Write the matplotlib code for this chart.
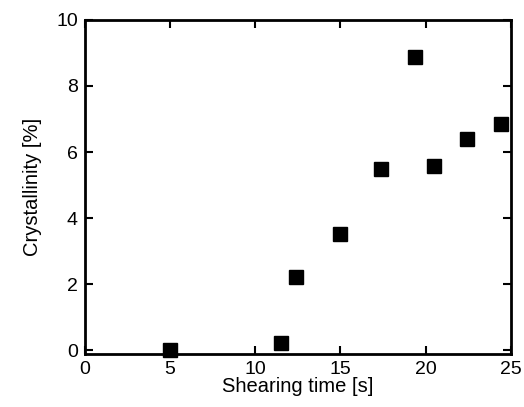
import matplotlib
matplotlib.use("Agg")
import matplotlib.pyplot as plt

plt.rcParams['font.family'] = ['Liberation Sans', 'DejaVu Sans']
plt.rcParams.update({'font.size': 14})

# Data
shear_time = [5.0, 11.5, 12.4, 15.0, 17.4, 19.4, 20.5, 22.4, 24.4]
crystallinity = [0.0, 0.22, 2.2, 3.52, 5.48, 8.88, 5.57, 6.39, 6.85]
x_ticks = [0, 5, 10, 15, 20, 25]
y_ticks = [0, 2, 4, 6, 8, 10]

fig = plt.figure(figsize=(5.24, 4.07), dpi=100)
ax = fig.add_axes([0.162, 0.130, 0.813, 0.821])
ax.plot(shear_time, crystallinity, 's', color='black', markersize=10, clip_on=False, zorder=3)

ax.set_xlim(0, 25)
ax.set_ylim(-0.12, 10)
ax.set_xticks(x_ticks)
ax.set_yticks(y_ticks)
ax.tick_params(direction='in', top=True, right=True, length=6, width=1.5, pad=5)
for sp in ax.spines.values():
    sp.set_linewidth(2)

ax.set_xlabel('Shearing time [s]', fontsize=14.5, labelpad=-1)
ax.set_ylabel('Crystallinity [%]', fontsize=14.5, labelpad=10)

plt.savefig("out.png", dpi=100)
